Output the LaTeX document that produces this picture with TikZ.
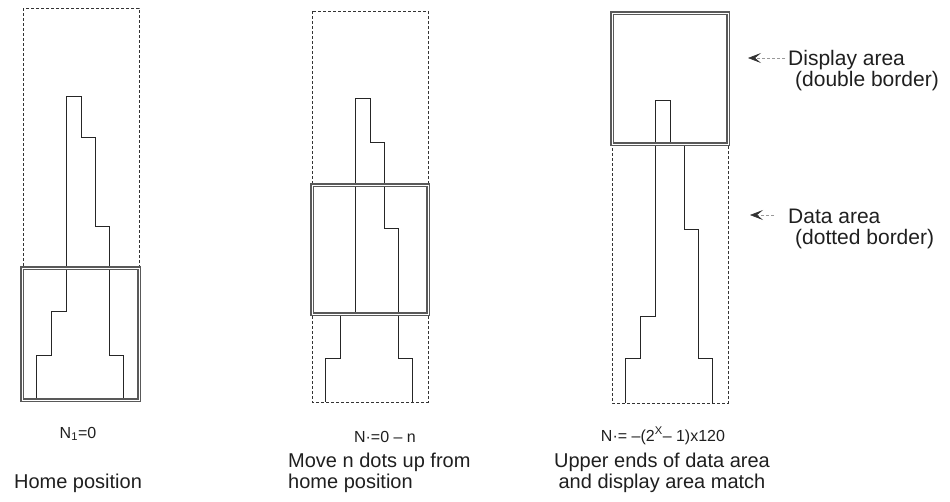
\documentclass[tikz,border=0pt]{standalone}
\usepackage{fontspec}
\setmainfont{Liberation Sans}
\usetikzlibrary{arrows.meta}
% #1 left x, #2 top of column, #3 first right step, #4 second right step,
% #5 first left step, #6 lowest step, #7 bottom
\newcommand\stairpath[7]{%
  \draw[stair] (#1+13,#7) |- (#1+28,#6) |- (#1+43,#5) |- (#1+58,#2)
    |- (#1+72,#3) |- (#1+86,#4) |- (#1+100,#6) -- (#1+100,#7);}
\begin{document}
\begin{tikzpicture}[x=1pt,y=-1pt,
  dataarea/.style={draw=black!80, line width=0.6pt, dash pattern=on 3pt off 2pt},
  displayarea/.style={draw=black!65, line width=1.2pt, double=white, double distance=0.7pt},
  stair/.style={draw=black!85, line width=0.7pt},
  lbl/.style={inner sep=0pt, font=\fontsize{20}{24}\selectfont, text=black!88},
  rlbl/.style={inner sep=0pt, font=\fontsize{21}{25}\selectfont, text=black!88},
  fml/.style={inner sep=0pt, font=\fontsize{16}{19}\selectfont, text=black!88},
  ptr/.style={draw=black!40, line width=0.6pt, dash pattern=on 3pt off 2pt,
    -{Stealth[length=13pt,width=10pt,inset=6pt,color=black!80]}}]
\useasboundingbox (0,0) rectangle (950,501);

% panel 1: home position
\draw[dataarea] (23,8) rectangle (139,400);
\stairpath{23}{96}{137}{226}{311}{355}{400}
\draw[displayarea] (22,268) rectangle (139,400);

% panel 2: moved n dots up
\draw[dataarea] (312,11) rectangle (428,402);
\stairpath{312}{98}{142}{228}{314}{358}{402}
\draw[displayarea] (312,185) rectangle (428,314);

% panel 3: upper ends match
\draw[dataarea] (612,13) rectangle (728,403);
\stairpath{612}{100}{144}{229}{316}{358}{403}
\draw[displayarea] (612,13) rectangle (728,144);

% bottom labels
\node[fml, anchor=base] (n1) at (78,438) {N\textsubscript{1}=0};
\node[lbl, anchor=base] (home) at (78,488) {Home position};

\node[fml, anchor=base] (n2) at (385,442) {N·=0 – n};
\node[lbl, anchor=base west] (move) at (288,467) {Move n dots up from};
\node[lbl, anchor=base west] (home2) at (288,488) {home position};

\node[fml, anchor=base] (n3) at (663,441) {N·= –(2\textsuperscript{X}– 1)x120};
\node[lbl, anchor=base] (upper) at (662,467) {Upper ends of data area};
\node[lbl, anchor=base] (match) at (662,488) {and display area match};

% right-hand legend
\node[rlbl, anchor=base west] (disp) at (788,65) {Display area};
\node[rlbl, anchor=base west] (dispb) at (795,86) {(double border)};
\node[rlbl, anchor=base west] (data) at (788,223) {Data area};
\node[rlbl, anchor=base west] (datab) at (795,244) {(dotted border)};

\coordinate (disptip) at (748,58);
\coordinate (datatip) at (750,215);
\draw[ptr] (disp.west |- disptip) ++(-3,0) -- (disptip);
\draw[ptr] (data.west |- datatip) ++(-14,0) -- (datatip);
\end{tikzpicture}
\end{document}
